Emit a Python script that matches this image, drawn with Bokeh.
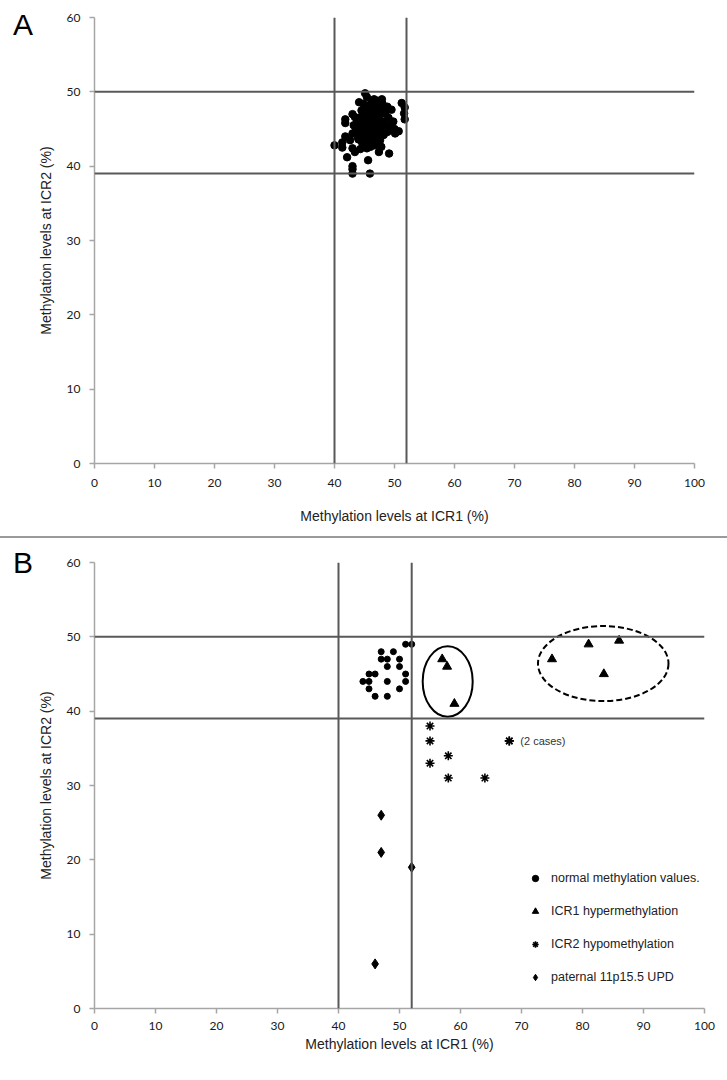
from bokeh.plotting import figure
from bokeh.models import Range1d, Span, Label, Legend, LegendItem, Div, FixedTicker
from bokeh.layouts import column, row
from bokeh.embed import file_html
from bokeh.resources import INLINE

# ---------------- data ----------------
x_ticks = [0, 10, 20, 30, 40, 50, 60, 70, 80, 90, 100]
y_ticks = [0, 10, 20, 30, 40, 50, 60]
icr1_cutoffs = [40, 52]
icr2_cutoffs = [39, 50]

# Panel A: controls (ICR1 %, ICR2 %)
a_icr1 = [45.1, 45.4, 44.1, 47.9, 51.2, 51.7, 48.8, 46.8, 45.4, 51.6, 51.7, 43.0,
          41.8, 41.8, 43.4, 48.4, 47.6, 49.1, 50.7, 50.1, 41.8, 43.0, 41.3, 40.0,
          41.3, 42.6, 42.1, 43.4, 43.0, 47.4, 49.1, 45.6, 43.0, 43.0, 43.0, 45.9,
          44.5, 45.0, 45.5, 46.0, 46.5, 47.0, 47.5, 46.2, 45.8, 44.8, 45.2, 45.8,
          46.3, 46.8, 47.3, 47.8, 48.3, 48.0, 47.5, 47.0, 46.5, 46.0, 45.5, 45.0,
          44.5, 44.2, 43.8, 44.0, 44.6, 45.2, 45.8, 46.4, 47.0, 47.6, 48.2, 48.8,
          49.3, 49.0, 48.5, 49.5, 46.0, 45.4, 46.7, 47.8, 44.3, 43.6, 43.2, 46.2,
          45.7, 47.2, 48.0, 44.8, 46.6, 47.4, 45.3, 46.9, 44.9, 47.9, 45.6, 46.4,
          47.6, 44.4, 48.6, 46.1, 45.0, 47.3, 43.9, 49.8, 50.0]
a_icr2 = [49.8, 49.3, 48.6, 49.0, 48.5, 47.9, 48.0, 48.2, 47.9, 47.1, 46.3, 47.0,
          46.3, 45.8, 46.6, 47.1, 46.2, 44.8, 44.7, 44.4, 44.0, 44.4, 43.2, 42.8,
          42.5, 43.5, 41.2, 41.9, 42.4, 41.9, 41.7, 40.8, 40.0, 39.6, 39.0, 39.0,
          47.5, 46.8, 47.2, 47.8, 47.0, 47.5, 48.0, 46.5, 46.0, 45.8, 45.2, 45.0,
          45.6, 46.0, 46.4, 45.8, 46.0, 45.0, 44.6, 45.2, 44.5, 44.0, 44.3, 44.0,
          44.6, 45.3, 46.0, 43.6, 43.2, 43.5, 43.0, 43.4, 43.8, 43.5, 44.2, 44.6,
          45.5, 46.5, 47.2, 47.6, 42.6, 42.4, 42.8, 42.6, 42.3, 44.8, 45.5, 48.5,
          48.2, 48.8, 48.4, 48.4, 49.0, 47.0, 46.4, 44.0, 44.9, 47.6, 45.7, 46.2,
          45.4, 46.6, 45.4, 43.8, 43.0, 43.2, 43.9, 46.0, 45.0]

# Panel B: patients by group
normal_icr1 = [51, 52, 47, 49, 47, 48, 50, 48, 50, 45, 46, 51, 44, 45, 48, 51, 45, 50, 46, 48]
normal_icr2 = [49, 49, 48, 48, 47, 47, 47, 46, 46, 45, 45, 45, 44, 44, 44, 44, 43, 43, 42, 42]
hyper_icr1 = [57, 57.8, 59, 75, 81, 86, 83.5]
hyper_icr2 = [47, 46, 41, 47, 49, 49.5, 45]
hypo_icr1 = [55, 55, 68, 68, 58, 55, 58, 64]
hypo_icr2 = [38, 36, 36, 36, 34, 33, 31, 31]
upd_icr1 = [47, 47, 52, 46]
upd_icr2 = [26, 21, 19, 6]

group_labels = ["normal methylation values.", "ICR1 hypermethylation",
                "ICR2 hypomethylation", "paternal 11p15.5 UPD"]
panel_letters = ["A", "B"]

# grouping ellipses around the ICR1 hypermethylation cases
ell_x = [57.9, 83.4]
ell_y = [44.0, 46.4]
ell_w = [8.2, 21.4]
ell_h = [9.5, 10.1]

# ---------------- style ----------------
AX = "#a6a6a6"
REF = "#595959"
TXT = "#222222"
TICKFONT = "Lato"
FONT = "Liberation Sans"
LETTER_W = 34


def style(p):
    p.xgrid.visible = False
    p.ygrid.visible = False
    p.outline_line_color = None
    p.background_fill_color = "white"
    p.border_fill_color = "white"
    for ax in (p.xaxis[0], p.yaxis[0]):
        ax.axis_line_color = AX
        ax.axis_line_width = 1.5
        ax.major_tick_line_color = AX
        ax.major_tick_line_width = 1.5
        ax.major_tick_in = 0
        ax.major_tick_out = 5
        ax.minor_tick_line_color = None
        ax.major_label_text_font = TICKFONT
        ax.major_label_text_font_size = "12px"
        ax.major_label_text_color = "#1a1a1a"
        ax.axis_label_text_font = FONT
        ax.axis_label_text_font_size = "14px"
        ax.axis_label_text_font_style = "normal"
        ax.axis_label_text_color = TXT
    p.xaxis[0].ticker = FixedTicker(ticks=x_ticks)
    p.yaxis[0].ticker = FixedTicker(ticks=y_ticks)
    p.xaxis[0].major_label_standoff = 10
    p.yaxis[0].major_label_standoff = 9
    p.xaxis[0].axis_label = "Methylation levels at ICR1 (%)"
    p.yaxis[0].axis_label = "Methylation levels at ICR2 (%)"
    p.yaxis[0].axis_label_standoff = 10
    for v in icr1_cutoffs:
        p.add_layout(Span(location=v, dimension="height", line_color=REF, line_width=2))
    for v in icr2_cutoffs:
        p.add_layout(Span(location=v, dimension="width", line_color=REF, line_width=2))


def letter(t, h):
    return Div(text='<div style="margin:10px 0 0 13px; line-height:1; font-size:30px; '
                    'font-family:\'Liberation Sans\'; color:black;">' + t + '</div>',
               width=LETTER_W, height=h, margin=0)


# ---------------- Panel A ----------------
pA = figure(width=685, height=536, x_range=Range1d(0, 100), y_range=Range1d(0, 60),
            output_backend="svg", toolbar_location=None,
            min_border_left=91 - LETTER_W, min_border_right=25, min_border_top=17,
            min_border_bottom=73)
style(pA)
pA.xaxis[0].axis_label_standoff = 18
pA.scatter(a_icr1, a_icr2, marker="circle", size=7.5, fill_color="black", line_color="black")

sep = Div(text="", width=727, height=2, margin=0, styles={"background-color": "#9a9a9a"})

# ---------------- Panel B ----------------
pB = figure(width=685, height=534, x_range=Range1d(0, 100), y_range=Range1d(0, 60),
            output_backend="svg", toolbar_location=None,
            min_border_left=91 - LETTER_W, min_border_right=15, min_border_top=24,
            min_border_bottom=64)
style(pB)
pB.xaxis[0].major_label_standoff = 8
pB.xaxis[0].axis_label_standoff = 3

for i in range(2):
    pB.ellipse(x=ell_x[i], y=ell_y[i], width=ell_w[i], height=ell_h[i],
               fill_color=None, line_color="black", line_width=2,
               line_dash="solid" if i == 0 else "6 3")

r1 = pB.scatter(normal_icr1, normal_icr2, marker="circle", size=6,
                fill_color="black", line_color="black")
r2 = pB.scatter(hyper_icr1, hyper_icr2, marker="triangle", size=9,
                fill_color="black", line_color="black")
r3 = pB.scatter(hypo_icr1, hypo_icr2, marker="asterisk", size=9,
                line_color="black", line_width=1.6)
r4 = pB.scatter(upd_icr1, upd_icr2, marker="diamond", size=10,
                fill_color="black", line_color="black")

pB.add_layout(Label(x=68, y=36, x_offset=11, text="(2 cases)", text_font=FONT,
                    text_font_size="11px", text_color="#333333", text_baseline="middle"))

legend = Legend(items=[LegendItem(label=group_labels[0], renderers=[r1]),
                       LegendItem(label=group_labels[1], renderers=[r2]),
                       LegendItem(label=group_labels[2], renderers=[r3]),
                       LegendItem(label=group_labels[3], renderers=[r4])],
                location=(433, 21), border_line_color=None, background_fill_alpha=0,
                padding=0, margin=0, spacing=13, glyph_width=16, glyph_height=20,
                label_height=20, label_standoff=8, label_text_font=FONT,
                label_text_font_size="12.5px", label_text_color=TXT)
pB.add_layout(legend)

layout = column(row(letter(panel_letters[0], 536), pA, spacing=0),
                sep,
                row(letter(panel_letters[1], 534), pB, spacing=0),
                spacing=0)
open("out.html", "w").write(file_html(layout, INLINE))
